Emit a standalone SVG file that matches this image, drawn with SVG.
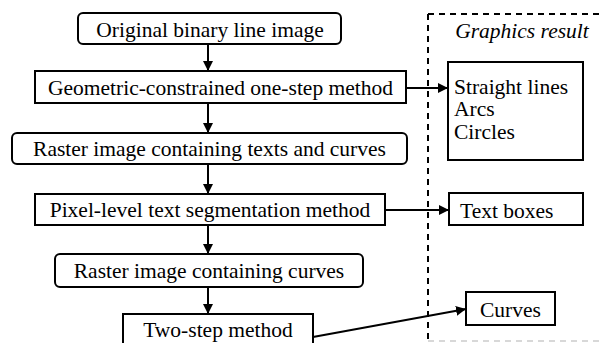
<svg xmlns="http://www.w3.org/2000/svg" width="600" height="343" viewBox="0 0 600 343">
<defs>
<marker id="ah" viewBox="0 0 10 10" refX="10" refY="5" markerWidth="10" markerHeight="10" markerUnits="userSpaceOnUse" orient="auto">
<path d="M0,0 L10,5 L0,10 z" fill="#000"/>
</marker>
<style>
.box{fill:#fff;stroke:#000;stroke-width:2}
.t{font-family:"Liberation Serif","Times New Roman",serif;font-size:21.5px;fill:#000}
.c{text-anchor:middle}
.ln{stroke:#000;stroke-width:2;fill:none}
.dash{stroke:#000;stroke-width:2;fill:none;stroke-dasharray:6,5}
</style>
</defs>
<rect width="600" height="343" fill="#fff"/>
<g id="result-frame">
<path class="dash" d="M428,14 H600 M428,14 V343"/>
<path d="M428,341 H600" stroke="#ccc" stroke-width="1.5" stroke-dasharray="6,5" fill="none"/>
<text class="t" x="522" y="38" text-anchor="middle" font-style="italic">Graphics result</text>
</g>
<g id="connectors">
<line class="ln" x1="208" y1="44" x2="208" y2="71" marker-end="url(#ah)"/>
<line class="ln" x1="208" y1="103" x2="208" y2="133" marker-end="url(#ah)"/>
<line class="ln" x1="208" y1="164" x2="208" y2="194" marker-end="url(#ah)"/>
<line class="ln" x1="208" y1="225" x2="208" y2="254" marker-end="url(#ah)"/>
<line class="ln" x1="208" y1="287" x2="208" y2="314" marker-end="url(#ah)"/>
<line class="ln" x1="406" y1="88" x2="448" y2="88" marker-end="url(#ah)"/>
<line class="ln" x1="385" y1="210" x2="449" y2="210" marker-end="url(#ah)"/>
<line class="ln" x1="313" y1="337" x2="466" y2="309" marker-end="url(#ah)"/>
</g>
<g id="n1">
<rect class="box" x="78" y="13" width="263" height="31" rx="5"/>
<text class="t c" x="210" y="37">Original binary line image</text>
</g>
<g id="n2">
<rect class="box" x="35" y="71" width="371" height="32"/>
<text class="t c" x="220.5" y="95">Geometric-constrained one-step method</text>
</g>
<g id="n3">
<rect class="box" x="12" y="133" width="395" height="31" rx="5"/>
<text class="t c" x="209.5" y="156">Raster image containing texts and curves</text>
</g>
<g id="n4">
<rect class="box" x="35" y="194" width="350" height="31"/>
<text class="t c" x="210" y="217">Pixel-level text segmentation method</text>
</g>
<g id="n5">
<rect class="box" x="55" y="254" width="308" height="33" rx="5"/>
<text class="t c" x="209" y="278">Raster image containing curves</text>
</g>
<g id="n6">
<rect class="box" x="123" y="314" width="190" height="40"/>
<text class="t c" x="218" y="337">Two-step method</text>
</g>
<g id="r1">
<rect class="box" x="448" y="62" width="135" height="98"/>
<text class="t" x="454" y="94">Straight lines</text>
<text class="t" x="454" y="116">Arcs</text>
<text class="t" x="454" y="139">Circles</text>
</g>
<g id="r2">
<rect class="box" x="449" y="193" width="134" height="32"/>
<text class="t" x="460" y="218">Text boxes</text>
</g>
<g id="r3">
<rect class="box" x="466" y="292" width="89" height="33"/>
<text class="t c" x="510.5" y="317">Curves</text>
</g>
</svg>
